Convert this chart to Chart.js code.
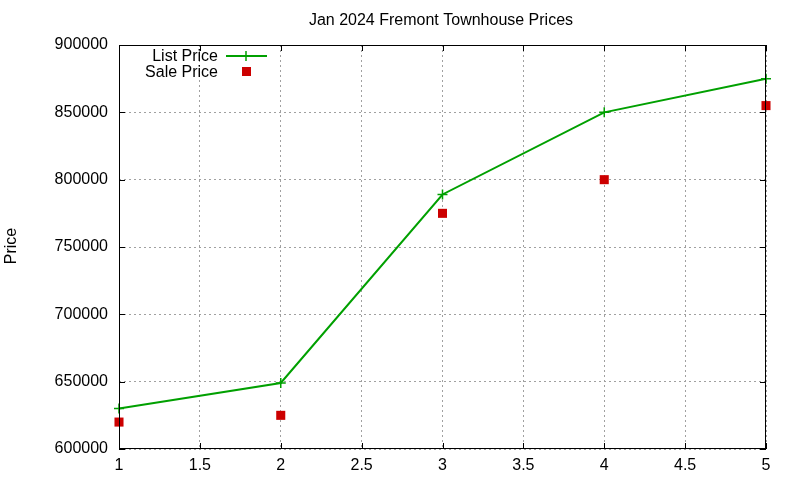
<!DOCTYPE html>
<html>
<head>
<meta charset="utf-8">
<script src="https://cdn.jsdelivr.net/npm/chart.js@4.4.1/dist/chart.umd.min.js"></script>
<style>
  html, body { margin: 0; padding: 0; background: #fff; }
  #wrap { width: 800px; height: 480px; }
</style>
</head>
<body>
<div id="wrap"><canvas id="priceChart"></canvas></div>
<script>
const months = [1, 2, 3, 4, 5];
const listPrice = [630000, 649000, 789000, 850000, 875000];
const salePrice = [620000, 625000, 775000, 800000, 855000];
const chartTitle = "Jan 2024 Fremont Townhouse Prices";
const yTitle = "Price";

const FONT = "'Liberation Sans', Arial, sans-serif";
const GREEN = "#00a000";
const RED = "#cc0000";

// gnuplot-ish frame: full border, inward ticks, title, legend
const gnuFrame = {
    id: "gnuFrame",
    afterDraw(chart) {
        const c = chart.ctx;
        const a = chart.chartArea;
        const xs = chart.scales.x, ys = chart.scales.y;
        c.save();
        c.strokeStyle = "#000";
        c.lineWidth = 1;
        c.strokeRect(a.left + 0.5, a.top + 0.5, a.right - a.left - 1, a.bottom - a.top - 1);
        c.beginPath();
        xs.ticks.forEach(t => {
            const px = Math.round(xs.getPixelForValue(t.value)) + 0.5;
            c.moveTo(px, a.bottom); c.lineTo(px, a.bottom - 6);
            c.moveTo(px, a.top); c.lineTo(px, a.top + 6);
        });
        ys.ticks.forEach(t => {
            const py = Math.round(ys.getPixelForValue(t.value)) + 0.5;
            c.moveTo(a.left, py); c.lineTo(a.left + 6, py);
            c.moveTo(a.right, py); c.lineTo(a.right - 6, py);
        });
        c.stroke();

        c.fillStyle = "#000";
        c.font = "16px " + FONT;
        c.textAlign = "center";
        c.textBaseline = "middle";
        c.fillText(chartTitle, 441, 21);

        c.save();
        c.translate(12, 246);
        c.rotate(-Math.PI / 2);
        c.font = "16px " + FONT;
        c.fillText(yTitle, 0, 0);
        c.restore();

        // legend
        c.font = "16px " + FONT;
        c.textAlign = "right";
        c.fillText("List Price", 218, 57);
        c.fillText("Sale Price", 218, 73);
        c.strokeStyle = GREEN;
        c.lineWidth = 2;
        c.beginPath();
        c.moveTo(226, 56); c.lineTo(267, 56);
        c.stroke();
        c.lineWidth = 1.5;
        c.beginPath();
        c.moveTo(246, 51); c.lineTo(246, 61);
        c.stroke();
        c.fillStyle = RED;
        c.fillRect(242, 67, 9, 9);
        c.restore();
    }
};

new Chart(document.getElementById("priceChart"), {
    type: "scatter",
    data: {
        datasets: [
            {
                label: "List Price",
                data: months.map((m, i) => ({ x: m, y: listPrice[i] })),
                showLine: true,
                clip: false,
                borderColor: GREEN,
                backgroundColor: GREEN,
                borderWidth: 2,
                pointStyle: "cross",
                pointRadius: 5,
                pointBorderWidth: 1.5,
                order: 2
            },
            {
                label: "Sale Price",
                data: months.map((m, i) => ({ x: m, y: salePrice[i] })),
                showLine: false,
                clip: false,
                borderColor: RED,
                backgroundColor: RED,
                pointStyle: "rect",
                pointRadius: 6.4,
                pointBorderWidth: 0,
                order: 1
            }
        ]
    },
    options: {
        responsive: true,
        maintainAspectRatio: false,
        animation: false,
        layout: { padding: { top: 45, right: 34, left: 0, bottom: 0 } },
        plugins: {
            legend: { display: false },
            tooltip: { enabled: false }
        },
        scales: {
            x: {
                type: "linear",
                min: 1,
                max: 5,
                afterFit(s) { s.height = 31; },
                ticks: {
                    stepSize: 0.5,
                    color: "#000",
                    padding: 7,
                    maxRotation: 0,
                    font: { family: FONT, size: 16 },
                    callback: v => String(v)
                },
                grid: { color: "#a0a0a0", drawTicks: false, lineWidth: 1 },
                border: { display: false, dash: [2, 3] }
            },
            y: {
                min: 600000,
                max: 900000,
                afterFit(s) { s.width = 119; },
                ticks: {
                    stepSize: 50000,
                    color: "#000",
                    padding: 11,
                    font: { family: FONT, size: 16 },
                    callback: v => String(v)
                },
                grid: { color: "#a0a0a0", drawTicks: false, lineWidth: 1 },
                border: { display: false, dash: [2, 3] }
            }
        }
    },
    plugins: [gnuFrame]
});
</script>
</body>
</html>
